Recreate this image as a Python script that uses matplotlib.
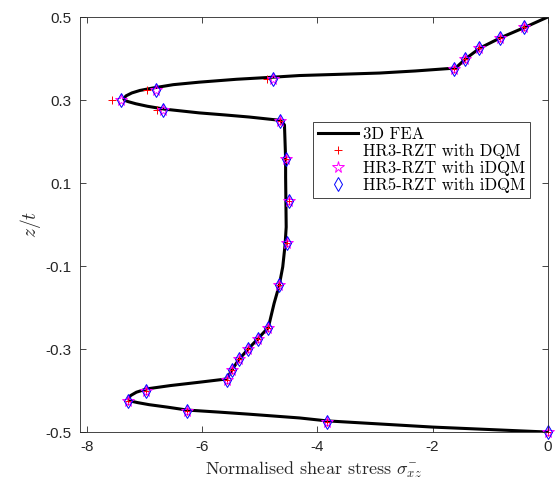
import numpy as np
import matplotlib
matplotlib.use('Agg')
import matplotlib.pyplot as plt

plt.rcParams['mathtext.fontset'] = 'cm'
plt.rcParams['axes.unicode_minus'] = False
plt.rcParams['font.family'] = 'Liberation Sans'

# 3D FEA through-thickness profile
fea_x = [0.0, -0.40, -0.82, -1.18, -1.42, -1.60, -2.30, -2.92, -3.60, -4.31, -4.77,
         -5.40, -6.05, -6.50, -6.85, -7.08, -7.22, -7.32, -7.36, -7.34, -7.28,
         -7.15, -6.95, -6.65, -6.05, -5.60, -5.18, -4.64, -4.57,
         -4.55, -4.55, -4.54, -4.56, -4.60, -4.66, -4.75, -4.85, -5.03, -5.20,
         -5.36, -5.48, -5.57, -6.05, -6.55, -6.96, -7.14, -7.24, -7.28, -7.25,
         -7.12, -6.92, -6.60, -6.26, -5.70, -5.18, -4.31, -3.84, -2.00, 0.0]
fea_z = [0.5, 0.475, 0.45, 0.425, 0.40, 0.377, 0.370, 0.365, 0.362, 0.359, 0.355,
         0.350, 0.343, 0.337, 0.329, 0.323, 0.317, 0.310, 0.303, 0.299, 0.296,
         0.291, 0.285, 0.278, 0.269, 0.264, 0.259, 0.251, 0.240,
         0.158, 0.114, -0.006, -0.05, -0.102, -0.146, -0.19, -0.248, -0.275, -0.30,
         -0.325, -0.35, -0.372, -0.380, -0.388, -0.396, -0.404, -0.412, -0.420, -0.425,
         -0.429, -0.434, -0.440, -0.447, -0.452, -0.457, -0.466, -0.473, -0.488, -0.5]

# sampling points of the layerwise models
z_pts = [0.475, 0.45, 0.425, 0.40, 0.375, 0.35, 0.325, 0.30, 0.275, 0.25,
         0.158, 0.057, -0.045, -0.146, -0.25, -0.275, -0.30, -0.325, -0.35, -0.375,
         -0.40, -0.425, -0.45, -0.475, -0.5]
hr3_idqm = [-0.42, -0.83, -1.19, -1.43, -1.62, -4.77, -6.80, -7.41, -6.67, -4.64,
            -4.55, -4.50, -4.53, -4.66, -4.85, -5.03, -5.20, -5.36, -5.48, -5.56,
            -6.97, -7.28, -6.26, -3.84, 0.0]
hr5_idqm = list(hr3_idqm)
hr3_dqm = [-0.42, -0.83, -1.19, -1.43, -1.62, -4.87, -6.96, -7.57, -6.78, -4.64,
           -4.55, -4.50, -4.53, -4.66, -4.85, -5.03, -5.20, -5.36, -5.48, -5.56,
           -6.97, -7.28, -6.26, -3.84, 0.0]

fig = plt.figure(figsize=(5.55, 4.86), dpi=100)
ax = fig.add_axes([0.144, 0.111, 0.843, 0.854])

ax.plot(fea_x, fea_z, 'k-', linewidth=2.2, label='3D FEA')
ax.plot(hr3_dqm, z_pts, 'r+', markersize=6, markeredgewidth=0.7, clip_on=False,
        label='HR3-RZT with DQM')
ax.plot(hr3_idqm, z_pts, linestyle='none', marker='*', markersize=8.5, markerfacecolor='none',
        markeredgecolor='magenta', markeredgewidth=0.7, clip_on=False, label='HR3-RZT with iDQM')
ax.plot(hr5_idqm, z_pts, linestyle='none', marker='d', markersize=7.5, markerfacecolor='none',
        markeredgecolor='blue', markeredgewidth=0.7, clip_on=False, label='HR5-RZT with iDQM')

ax.set_xlim(-8.12, 0)
ax.set_ylim(-0.5, 0.5)
ax.set_xticks([-8, -6, -4, -2, 0])
ax.set_yticks([-0.5, -0.3, -0.1, 0.1, 0.3, 0.5])
ax.set_xticklabels(['-8', '-6', '-4', '-2', '0'])
ax.set_yticklabels(['-0.5', '-0.3', '-0.1', '0.1', '0.3', '0.5'])
ax.tick_params(direction='in', top=True, right=True, length=4, width=0.6,
               labelsize=11, colors='0.15', pad=6)
for s in ax.spines.values():
    s.set_color('0.15')
    s.set_linewidth(0.6)

ax.set_xlabel(r'Normalised shear stress $\bar{\sigma_{xz}}$', fontfamily='cmr10',
              fontsize=13, color='0.15', labelpad=4)
ax.set_ylabel(r'$z/t$', fontsize=14, color='0.15', labelpad=2)

leg = ax.legend(loc='upper left', bbox_to_anchor=(0.498, 0.747), prop={'family': 'cmr10', 'size': 12},
                fancybox=False, edgecolor='0.15', framealpha=1, borderpad=0.3,
                labelspacing=0.1, handlelength=2.4, handletextpad=0.3, borderaxespad=0)
leg.get_frame().set_linewidth(0.6)

fig.savefig('out.png', dpi=100)
